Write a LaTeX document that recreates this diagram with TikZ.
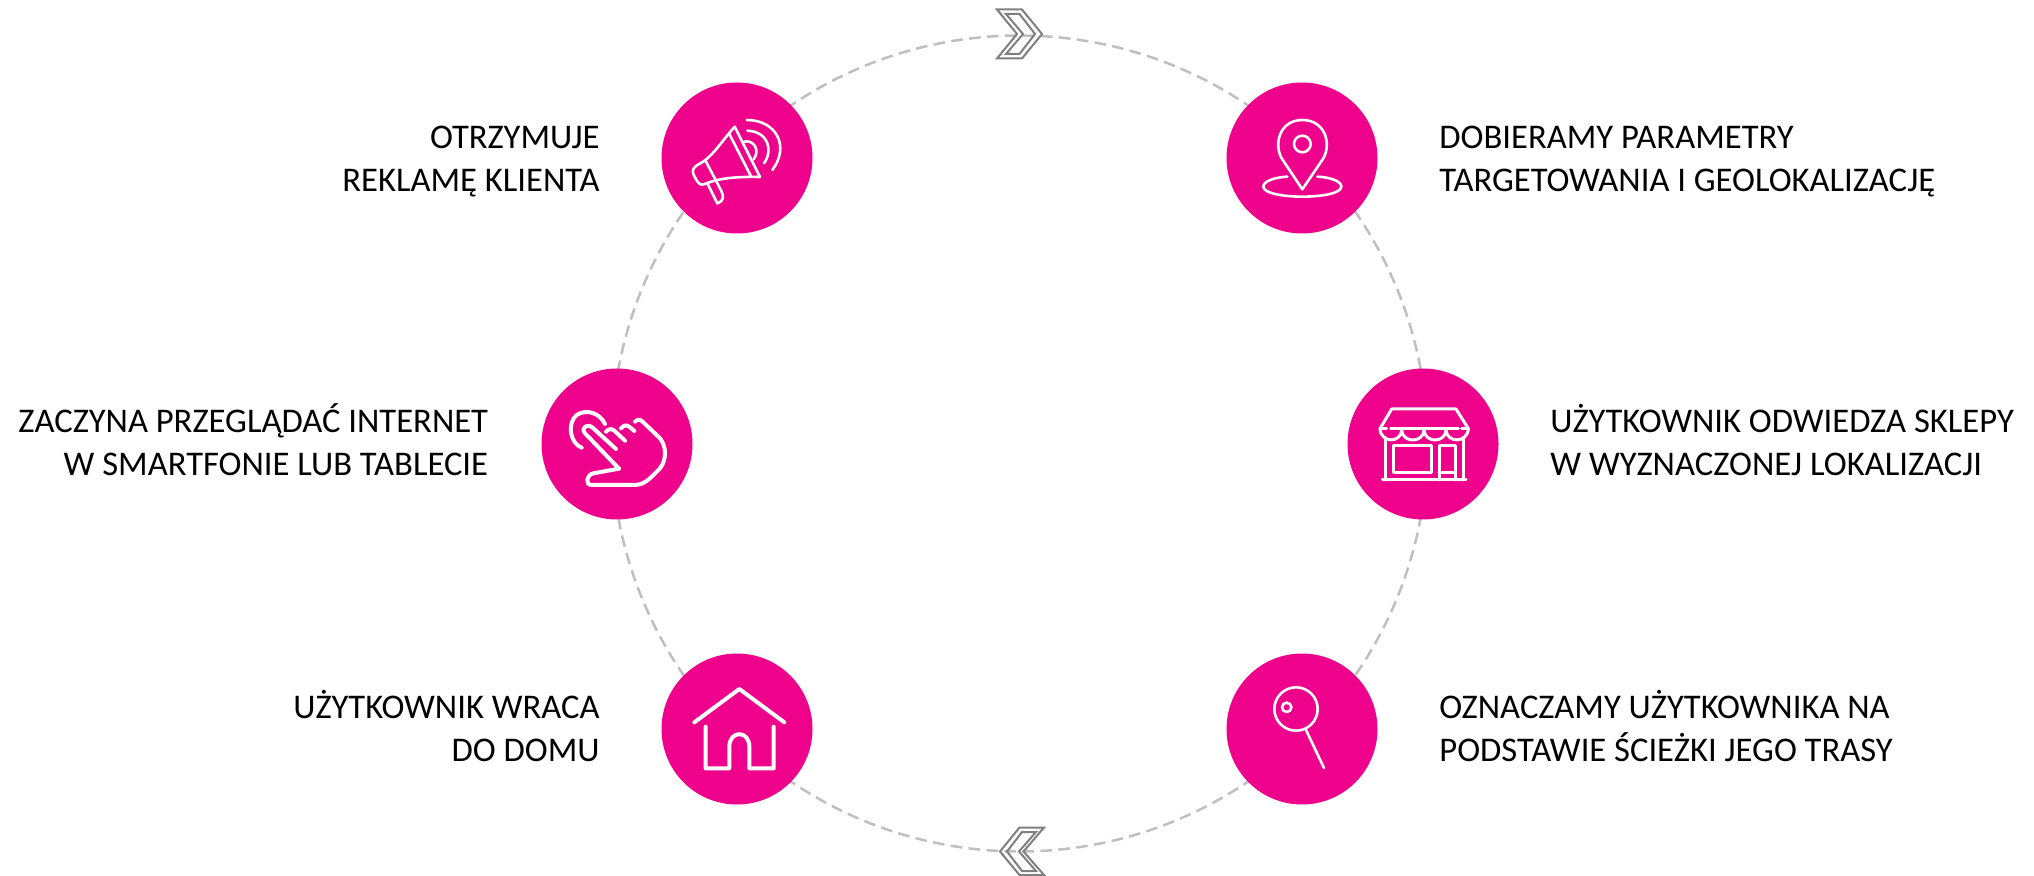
\documentclass[tikz,border=0pt]{standalone}
\usepackage{fontspec}
\usetikzlibrary{calc}
\setmainfont{Carlito}
\definecolor{pinkc}{HTML}{EE028B}
\definecolor{ringc}{HTML}{BFBFBF}
\definecolor{chevc}{HTML}{7F7F7F}
\tikzset{
  ringline/.style={draw=ringc,line width=1.25pt,dash pattern=on 5.8pt off 3.2pt},
  bubble/.style={circle,fill=pinkc,draw=none,minimum size=75.5pt,inner sep=0pt},
  icon/.style={draw=white,line width=1.3pt,line cap=round,line join=round},
  iconthick/.style={icon,line width=2pt},
  chevron/.style={draw=chevc,line width=1pt,line join=miter},
  labelL/.style={anchor=east,align=right,inner sep=0pt,font=\fontsize{17.3}{21.5}\selectfont,text=black},
  labelR/.style={anchor=west,align=left,inner sep=0pt,font=\fontsize{17.3}{21.5}\selectfont,text=black},
}
\begin{document}
\begin{tikzpicture}[x=0.5pt,y=-0.5pt]
\useasboundingbox (0,0) rectangle (2034,876);
\coordinate (o) at (1019.5,443.5);
\foreach \n/\a in {r1/225,r2/315,r3/360,r4/180,r5/135,r6/45}{\coordinate (\n) at ($(o)+(\a:408)$);}
\draw[ringline] (r1) arc[start angle=225,end angle=315,radius=408];
\draw[ringline] (r2) arc[start angle=315,end angle=360,radius=408];
\draw[ringline] (r3) arc[start angle=0,end angle=45,radius=408];
\draw[ringline] (r6) arc[start angle=45,end angle=135,radius=408];
\draw[ringline] (r5) arc[start angle=135,end angle=180,radius=408];
\draw[ringline] (r4) arc[start angle=180,end angle=225,radius=408];
\node[bubble] (c1) at (737,158) {};
\node[bubble] (c2) at (1302,158) {};
\node[bubble] (c3) at (1423,444) {};
\node[bubble] (c4) at (617,444) {};
\node[bubble] (c5) at (737,729) {};
\node[bubble] (c6) at (1302,729) {};
% top chevron
\draw[chevron] (997,9.5) -- (1022,9.5) -- (1042,34) -- (1022,58.5) -- (997,58.5) -- (1017,34) -- cycle;
\draw[chevron] (1006,14) -- (1019.5,14) -- (1035,34) -- (1019.5,54) -- (1006,54) -- (1023,34) -- cycle;
% bottom chevron
\draw[chevron] (1044,827.5) -- (1019.5,827.5) -- (1000,851.5) -- (1019.5,875) -- (1044,875) -- (1023.5,851.5) -- cycle;
\draw[chevron] (1036,832) -- (1022,832) -- (1007,851.5) -- (1022,871) -- (1036,871) -- (1019,851.5) -- cycle;
% megaphone
\begin{scope}[shift={(640,60)},scale=1/3]
\draw[icon] (284,200) -- (360,351) .. controls (300,350) and (240,352) .. (192,373) .. controls (180,378) and (172,368) .. (160,342) .. controls (155,330) and (162,322) .. (172,315) .. controls (215,295) and (240,250) .. (284,200);
\draw[icon] (268,222) -- (332,347);
\draw[icon] (198,305) -- (228,362);
\draw[icon] (203,372) -- (232,430) .. controls (250,425) and (252,410) .. (245,395) -- (228,362);
\draw[icon] (312,245) .. controls (340,238) and (362,270) .. (341,298);
\draw[icon] (322,212) .. controls (385,215) and (400,270) .. (372,310);
\draw[icon] (320,180) .. controls (410,180) and (450,260) .. (397,330);
\end{scope}
% pin
\begin{scope}[shift={(1200,60)},scale=1/3]
\draw[icon] (307,252) circle[radius=25];
\draw[icon] (307,388) -- (245,295) .. controls (220,250) and (240,180) .. (307,180) .. controls (375,180) and (395,250) .. (370,295) -- cycle;
\draw[icon] (262,350) .. controls (220,352) and (190,365) .. (190,380) .. controls (190,400) and (250,410) .. (307,410) .. controls (365,410) and (424,400) .. (424,380) .. controls (424,365) and (395,352) .. (352,350);
\end{scope}
% shop
\begin{scope}[shift={(1320,350)},scale=1/3]
\draw[icon,line width=1.5pt] (180,236) -- (215,177) -- (408,177) -- (445,236);
\draw[icon,line width=1.5pt] (212,236) -- (415,236);
\draw[icon,line width=1.5pt] (180,236) -- (200,236) (425,236) -- (445,236);
\draw[icon,line width=1.5pt] (180,236) .. controls (182,280) and (243,280) .. (245,240) .. controls (247,280) and (310,280) .. (312,240) .. controls (314,280) and (376,280) .. (378,240) .. controls (380,280) and (443,280) .. (445,236);
\draw[icon,line width=1.5pt] (195,262) -- (195,390) (430,262) -- (430,390);
\draw[icon,line width=1.5pt] (187,390) -- (438,390);
\draw[icon,line width=1.5pt] (220,288) rectangle (333,368);
\draw[icon,line width=1.5pt] (357,390) -- (357,288) -- (405,288) -- (405,390) (357,368) -- (405,368);
\end{scope}
% hand
\begin{scope}[shift={(520,350)},scale=1/3]
\draw[iconthick] (185,293) .. controls (150,280) and (140,220) .. (170,195) .. controls (200,175) and (240,190) .. (255,222);
\draw[iconthick] (297,356) -- (195,250) .. controls (180,232) and (205,218) .. (220,235) -- (288,297);
\draw[iconthick] (258,245) .. controls (268,232) and (280,238) .. (286,245) -- (315,272);
\draw[iconthick] (303,235) .. controls (315,220) and (325,228) .. (330,232) -- (343,243);
\draw[iconthick] (345,215) .. controls (355,203) and (365,212) .. (370,217) -- (420,265) .. controls (440,290) and (440,330) .. (420,355) -- (395,380) .. controls (375,400) and (360,405) .. (340,405) -- (215,405) .. controls (195,405) and (198,375) .. (220,370) -- (297,356);
\end{scope}
% house
\begin{scope}[shift={(640,640)},scale=1/3]
\draw[iconthick] (163,247) -- (298,147) -- (433,247);
\draw[iconthick] (197,260) -- (197,385) -- (268,385) -- (268,320) .. controls (268,270) and (328,270) .. (328,320) -- (328,385) -- (401,385) -- (401,260);
\end{scope}
% magnifier
\begin{scope}[shift={(1200,640)},scale=1/3]
\draw[icon] (288,207) circle[radius=65];
\draw[icon] (260,202) circle[radius=14];
\draw[icon] (318,270) -- (372,384);
\end{scope}
% labels
\node[labelL] (t1) at (600,162) {OTRZYMUJE\\REKLAMĘ KLIENTA};
\node[labelL] (t4) at (488.5,440) {ZACZYNA PRZEGLĄDAĆ INTERNET\\W SMARTFONIE LUB TABLECIE};
\node[labelL] (t5) at (600,726) {UŻYTKOWNIK WRACA\\DO DOMU};
\node[labelR] (t2) at (1439,162) {DOBIERAMY PARAMETRY\\TARGETOWANIA I GEOLOKALIZACJĘ};
\node[labelR] (t3) at (1550,440) {UŻYTKOWNIK ODWIEDZA SKLEPY\\W WYZNACZONEJ LOKALIZACJI};
\node[labelR] (t6) at (1439,726) {OZNACZAMY UŻYTKOWNIKA NA\\PODSTAWIE ŚCIEŻKI JEGO TRASY};
\end{tikzpicture}
\end{document}
